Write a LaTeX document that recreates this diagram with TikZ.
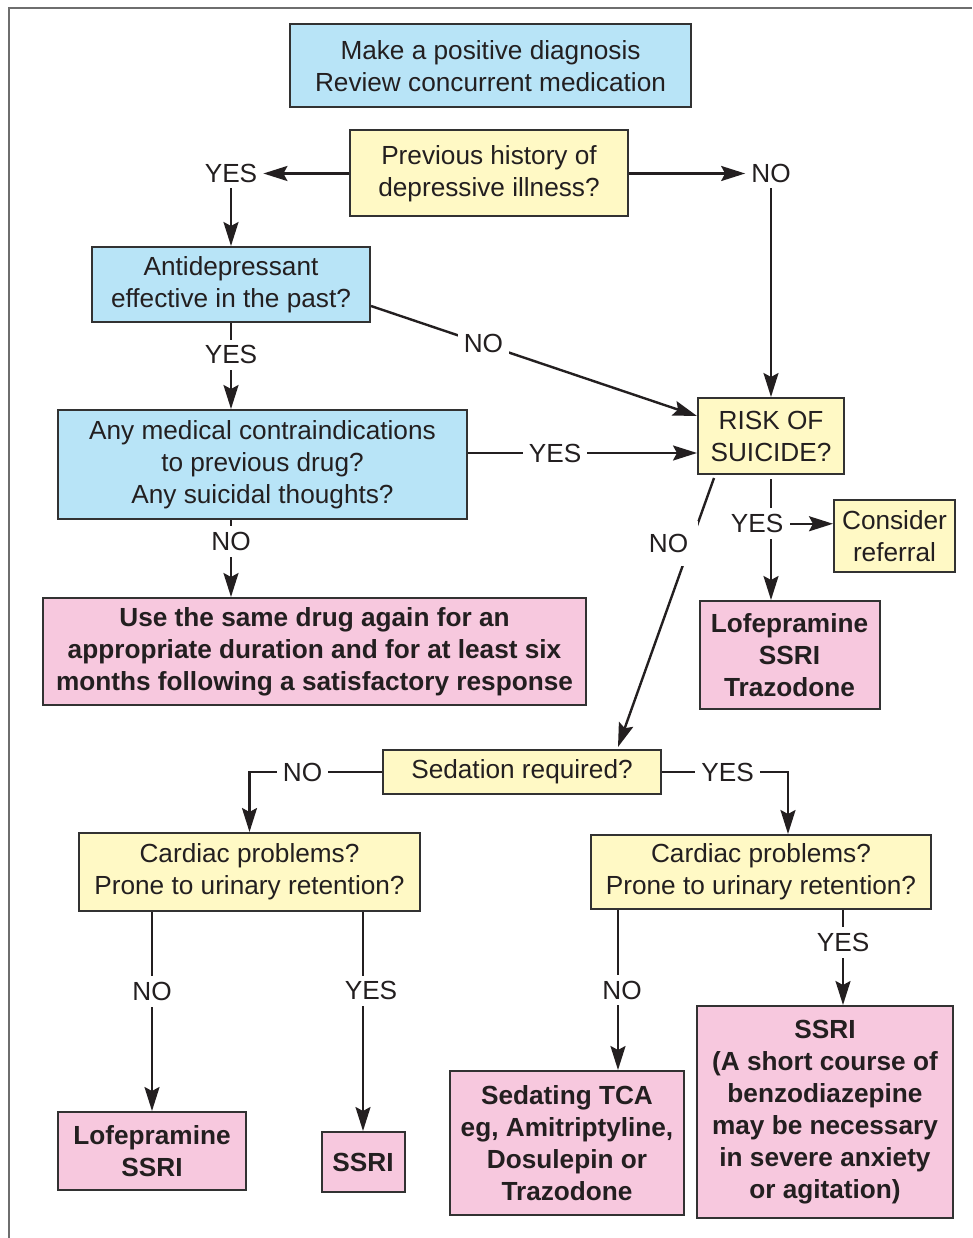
\documentclass[tikz,border=0pt]{standalone}
\usepackage{fontspec}
\setmainfont{Liberation Sans}
\usetikzlibrary{arrows.meta}

\definecolor{qblue}{RGB}{184,228,247}
\definecolor{qyellow}{RGB}{255,249,197}
\definecolor{qpink}{RGB}{247,200,222}
\definecolor{boxline}{RGB}{50,50,50}
\definecolor{inkline}{RGB}{35,31,32}
\definecolor{framegray}{RGB}{110,110,110}
\newcommand{\flowsize}{\fontsize{26.2}{32}\selectfont}

\begin{document}
\begin{tikzpicture}[
    x=1pt, y=-1pt,
    box/.style={rectangle, draw=boxline, line width=2pt, align=center, inner sep=0pt, font=\flowsize, text=inkline},
    ask/.style={box, fill=qyellow},
    info/.style={box, fill=qblue},
    drug/.style={box, fill=qpink, font=\flowsize\bfseries},
    lbl/.style={fill=white, inner sep=6pt, font=\flowsize, text=inkline},
    arr/.style={draw=inkline, line width=2.4pt, -{Stealth[length=24pt, width=15pt, inset=4pt]}}
]
\useasboundingbox (0,0) rectangle (972,1238);

% Frame (only top and left edges visible)
\draw[framegray, line width=1.6pt] (9,1238) -- (9,8) -- (972,8);

% Upper part
\node[info, minimum width=401pt, minimum height=83pt] (diag) at (490.5,66) {Make a positive diagnosis\\Review concurrent medication};
\node[ask, minimum width=278pt, minimum height=86pt] (prev) at (489,173.5) {Previous history of\\depressive illness?};
\node[lbl] (yes1) at (231,173) {YES};
\node[lbl] (no1) at (771,173) {NO};
\node[info, minimum width=278pt, minimum height=75pt] (antidep) at (231,284.5) {Antidepressant\\effective in the past?};
\node[info, minimum width=409pt, minimum height=109pt] (contra) at (262.5,464.5) {Any medical contraindications\\to previous drug?\\Any suicidal thoughts?};
\node[drug, minimum width=543pt, minimum height=107pt] (same) at (314.5,651.5) {Use the same drug again for an\\appropriate duration and for at least six\\months following a satisfactory response};

% Suicide risk branch
\node[ask, minimum width=146pt, minimum height=76pt] (risk) at (771,436) {RISK OF\\SUICIDE?};
\node[ask, minimum width=121pt, minimum height=72pt] (refer) at (894.5,536) {Consider\\referral};
\node[drug, minimum width=180pt, minimum height=108pt] (lofe1) at (789.5,655) {Lofepramine\\SSRI\\Trazodone};

% Lower part
\node[ask, minimum width=278pt, minimum height=44pt] (sed) at (522,772) {Sedation required?};
\node[ask, minimum width=341pt, minimum height=78pt] (cardL) at (249.5,872) {Cardiac problems?\\Prone to urinary retention?};
\node[ask, minimum width=340pt, minimum height=74pt] (cardR) at (761,872) {Cardiac problems?\\Prone to urinary retention?};
\node[drug, minimum width=188pt, minimum height=78pt] (lofe2) at (152,1151) {Lofepramine\\SSRI};
\node[drug, minimum width=83pt, minimum height=60pt] (ssri) at (363,1162) {SSRI};
\node[drug, minimum width=234pt, minimum height=144pt] (sedtca) at (567,1143) {Sedating TCA\\eg, Amitriptyline,\\Dosulepin or\\Trazodone};
\node[drug, minimum width=256pt, minimum height=212pt] (benzo) at (825,1112) {SSRI\\(A short course of\\benzodiazepine\\may be necessary\\in severe anxiety\\or agitation)};

% Connectors, top half
\draw[arr] (prev.west) -- (prev.west -| yes1.east);
\draw[arr] (prev.east) -- (prev.east -| no1.west);
\draw[arr] (yes1.south) -- (antidep.north);
\draw[arr] (no1.south) -- (risk.north);
\draw[arr] (antidep.south) -- node[lbl, pos=0.37] {YES} (antidep.south |- contra.north);
\draw[arr] ([yshift=17pt]antidep.south east) -- node[lbl, pos=0.345] {NO} ([yshift=-19pt]risk.north west);
\draw[arr] ([yshift=11.5pt]contra.east) -- node[lbl, pos=0.38] {YES} ([yshift=-17pt]risk.west);
\draw[arr] (antidep.south |- contra.south) -- node[lbl, pos=0.28] {NO} (antidep.south |- same.north);

% Connectors, from the risk box
\draw[arr] ([yshift=-4pt]risk.south) -- node[lbl, pos=0.37, xshift=-14pt] (ryes) {YES} (risk.south |- lofe1.north);
\draw[arr] (ryes.east) -- (ryes.east -| refer.west);
\draw[arr] ([xshift=17pt, yshift=-3pt]risk.south west) -- node[lbl, pos=0.2435, xshift=-22pt, inner xsep=10pt, inner ysep=13pt] {NO} ([xshift=-44pt, yshift=2pt]sed.north east);

% Connectors, bottom half
\coordinate (cr) at ([xshift=198pt]cardR.north west);
\coordinate (cn) at ([xshift=28pt]cardR.south west);
\coordinate (cy) at ([xshift=-89pt]cardR.south east);
\draw[arr] (sed.west) -| node[lbl, pos=0.3] {NO} (cardL.north);
\draw[arr] (sed.east) -| node[lbl, pos=0.26] {YES} (cr);
\draw[arr] (lofe2.north |- cardL.south) -- node[lbl, pos=0.4] {NO} (lofe2.north);
\draw[arr] (ssri.north |- cardL.south) -- node[lbl, pos=0.36, xshift=8pt] {YES} (ssri.north);
\draw[arr] (cn) -- node[lbl, pos=0.5, xshift=4pt] {NO} (cn |- sedtca.north);
\draw[arr] (cy) -- node[lbl, pos=0.34] {YES} (cy |- benzo.north);

\end{tikzpicture}
\end{document}
